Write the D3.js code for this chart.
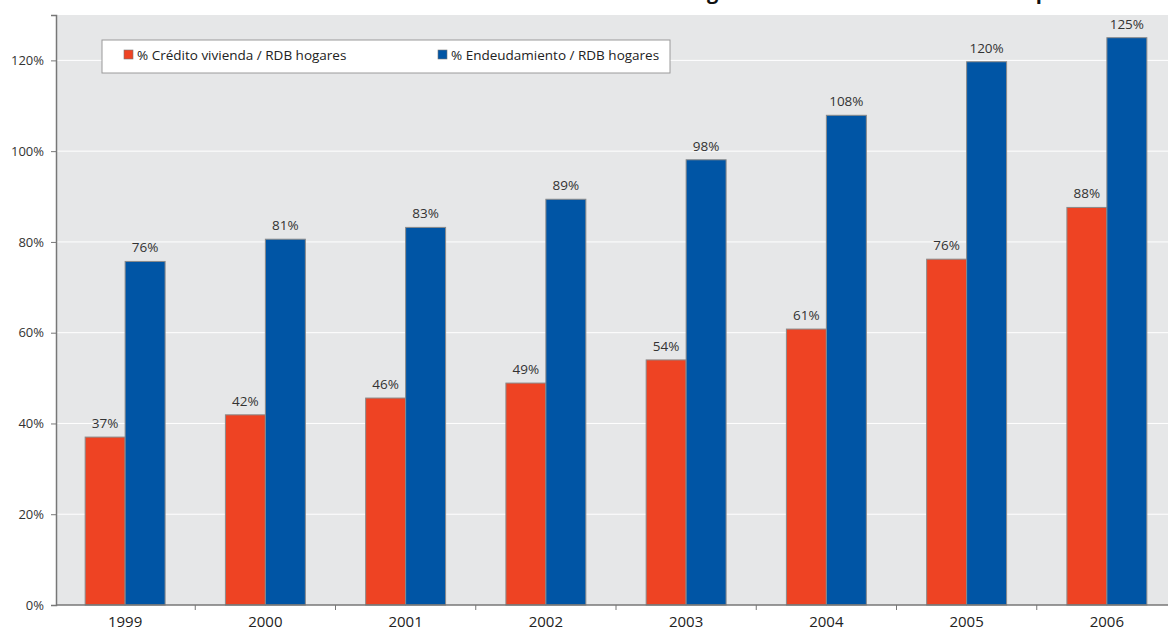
<!DOCTYPE html>
<html>
<head>
<meta charset="utf-8">
<script src="https://cdn.jsdelivr.net/npm/d3@7"></script>
<style>
  html, body { margin: 0; padding: 0; background: #fff; }
  svg { display: block; font-family: "Open Sans", "Noto Sans", sans-serif; }
</style>
</head>
<body>
<svg id="chart" width="1168" height="632"></svg>
<script>
// Household debt ratios over gross disposable income (RDB), Spain
const years = ["1999", "2000", "2001", "2002", "2003", "2004", "2005", "2006"];
const creditoVivienda = [37.0, 41.9, 45.6, 48.9, 54.0, 60.8, 76.2, 87.6];
const endeudamiento = [75.7, 80.6, 83.2, 89.4, 98.1, 107.9, 119.7, 125.0];
const seriesNames = ["% Crédito vivienda / RDB hogares", "% Endeudamiento / RDB hogares"];
const seriesColors = ["#ee4323", "#0055a5"];
const yTicks = [0, 20, 40, 60, 80, 100, 120];
const titleText = "Endeudamiento de los hogares en relación con la renta disponible";

const svg = d3.select("#chart");
const W = 1168, H = 632;
const m = { top: 15, right: 0, bottom: 27, left: 56 };
const iw = W - m.left - m.right, ih = H - m.top - m.bottom;

// Title sits above the plot and runs off the top edge
const title = svg.append("text")
  .attr("y", -1.5)
  .attr("font-size", 20)
  .attr("font-weight", "bold")
  .attr("fill", "#111")
  .text(titleText);
const probe = svg.append("text").attr("font-size", 20).attr("font-weight", "bold")
  .text(titleText.slice(0, titleText.indexOf("hogares") + 2));
const prefixW = probe.node().getComputedTextLength();
probe.remove();
title.attr("x", 707 - prefixW);

const g = svg.append("g").attr("transform", `translate(${m.left},${m.top})`);

// Category bands continue a little past the right edge of the frame
const x0 = d3.scaleBand().domain(years).range([-1, iw + 9]).paddingInner(0).paddingOuter(0);
const groupW = x0.bandwidth() * 0.57;
const x1 = d3.scaleBand().domain([0, 1]).range([0, groupW]);
const y = d3.scaleLinear().domain([0, 130]).range([ih, 0]);

// Plot background
g.append("rect").attr("width", iw).attr("height", ih).attr("fill", "#e6e7e8");

// Horizontal gridlines
g.append("g").selectAll("line")
  .data(yTicks.filter(d => d > 0))
  .join("line")
  .attr("x1", 0).attr("x2", iw)
  .attr("y1", d => y(d)).attr("y2", d => y(d))
  .attr("stroke", "#ffffff").attr("stroke-width", 1);

// Bars
const data = years.map((yr, i) => ({ yr, vals: [creditoVivienda[i], endeudamiento[i]] }));
const groups = g.append("g").selectAll("g")
  .data(data)
  .join("g")
  .attr("transform", d => `translate(${x0(d.yr) + (x0.bandwidth() - groupW) / 2},0)`);

groups.selectAll("rect")
  .data(d => d.vals.map((v, k) => ({ v, k })))
  .join("rect")
  .attr("x", d => x1(d.k))
  .attr("y", d => y(d.v))
  .attr("width", x1.bandwidth())
  .attr("height", d => y(0) - y(d.v))
  .attr("fill", d => seriesColors[d.k])
  .attr("stroke", "#8a8a8a")
  .attr("stroke-width", 1);

groups.selectAll("text")
  .data(d => d.vals.map((v, k) => ({ v, k })))
  .join("text")
  .attr("x", d => x1(d.k) + x1.bandwidth() / 2)
  .attr("y", d => y(d.v) - 9)
  .attr("text-anchor", "middle")
  .attr("font-size", 13.5)
  .attr("fill", "#333")
  .text(d => d3.format(".0f")(d.v) + "%");

// Y axis
const yAxis = g.append("g")
  .call(d3.axisLeft(y).tickValues(yTicks).tickFormat(d => d + "%").tickSize(5).tickPadding(7));
yAxis.select(".domain").attr("stroke", "#777").attr("stroke-width", 1.5);
yAxis.selectAll(".tick line").attr("stroke", "#777");
yAxis.selectAll(".tick text").attr("font-size", 13).attr("fill", "#333")
  .attr("font-family", "\"Open Sans\", sans-serif");

// X axis with ticks between categories
const xAxis = g.append("g").attr("transform", `translate(0,${ih})`)
  .call(d3.axisBottom(x0).tickSize(0).tickPadding(11));
xAxis.select(".domain").remove();
xAxis.append("line").attr("x1", 0).attr("x2", iw)
  .attr("stroke", "#777").attr("stroke-width", 1.5);
xAxis.selectAll(".tick text").attr("font-size", 15).attr("fill", "#222")
  .attr("font-family", "\"Open Sans\", sans-serif");
xAxis.append("g").selectAll("line")
  .data(years.slice(1))
  .join("line")
  .attr("x1", d => x0(d)).attr("x2", d => x0(d))
  .attr("y1", 0).attr("y2", 5)
  .attr("stroke", "#777");

// Legend
const legend = g.append("g").attr("transform", "translate(46,25)");
legend.append("rect")
  .attr("width", 568).attr("height", 33)
  .attr("fill", "#fff").attr("stroke", "#9a9a9a");
const itemX = [22, 336];
const items = legend.selectAll("g.item")
  .data(seriesNames)
  .join("g").attr("class", "item")
  .attr("transform", (d, i) => `translate(${itemX[i]},10)`);
items.append("rect")
  .attr("width", 9).attr("height", 9)
  .attr("fill", (d, i) => seriesColors[i])
  .attr("stroke", "#777").attr("stroke-width", 0.6);
items.append("text")
  .attr("x", 13).attr("y", 9.5)
  .attr("font-size", 13.5).attr("fill", "#222")
  .text(d => d);
</script>
</body>
</html>
